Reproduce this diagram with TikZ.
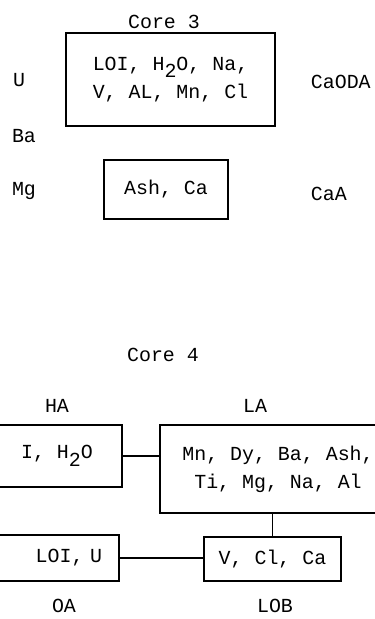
\documentclass[tikz,border=0pt]{standalone}
\usepackage{fontspec}
\setmonofont{Liberation Mono}
\usetikzlibrary{positioning}
\newcommand{\lowtwo}{\raisebox{-0.7ex}{2}}

\begin{document}
\begin{tikzpicture}[x=1bp, y=-1bp, line width=1.8bp,
  every node/.style={font=\ttfamily\fontsize{20}{28}\selectfont, inner sep=0pt},
  box/.style={draw, align=center}]
  \useasboundingbox (0,0) rectangle (374,619);
  % core 3
  \node (core3) at (164,22) {Core 3};
  \node[box, minimum width=209bp, minimum height=93bp] (upper) at (170.5,79.5)
    {LOI, H\lowtwo O, Na,\\V, AL, Mn, Cl};
  \node[box, minimum width=124bp, minimum height=59bp] (lower) at (166,189.5) {Ash, Ca};
  \node (u) at (19,80) {U};
  \node (ba) at (24,136) {Ba};
  \node (mg) at (24,191) {Mg};
  \node[anchor=west] (caoda) at (310,82) {CaODA};
  \node[anchor=west] (caa) at (310,194) {CaA};
  % core 4
  \node (core4) at (163,355) {Core 4};
  \node (ha) at (57,406) {HA};
  \node (la) at (255,406) {LA};
  \node[box, minimum width=130bp, minimum height=62bp] (hbox) at (57,456) {I, H\lowtwo O};
  \node[box, minimum width=236bp, minimum height=88bp] (lbox) at (278,469)
    {Mn, Dy, Ba, Ash,\\Ti, Mg, Na, Al};
  \node[box, minimum width=137bp, minimum height=44bp] (vbox) at (272.5,559) {V, Cl, Ca};
  \node[draw, anchor=east, text width=110bp, align=right, inner xsep=17bp,
    minimum height=46bp] (obox) at (120,558) {LOI, U};
  \node (oa) at (64,606) {OA};
  \node (lob) at (275,606) {LOB};
  \draw (hbox.east) -- (hbox.east -| lbox.west);
  \draw (vbox.north) -- (vbox.north |- lbox.south);
  \draw (obox.east) -- (obox.east -| vbox.west);
\end{tikzpicture}
\end{document}
